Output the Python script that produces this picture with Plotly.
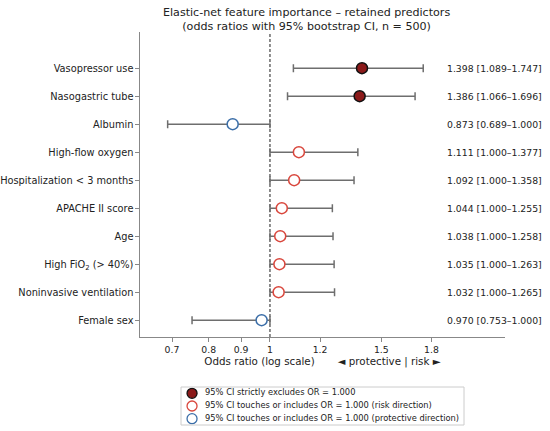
import plotly.graph_objects as go

features = ["Vasopressor use", "Nasogastric tube", "Albumin", "High-flow oxygen",
            "Hospitalization &lt; 3 months", "APACHE II score", "Age",
            "High FiO<sub>2</sub> (&gt; 40%)", "Noninvasive ventilation", "Female sex"]
odds = [1.398, 1.386, 0.873, 1.111, 1.092, 1.044, 1.038, 1.035, 1.032, 0.970]
ci_low = [1.089, 1.066, 0.689, 1.000, 1.000, 1.000, 1.000, 1.000, 1.000, 0.753]
ci_high = [1.747, 1.696, 1.000, 1.377, 1.358, 1.255, 1.258, 1.263, 1.265, 1.000]
groups = ["excl", "excl", "prot", "risk", "risk", "risk", "risk", "risk", "risk", "prot"]

x_ticks = [0.7, 0.8, 0.9, 1, 1.2, 1.5, 1.8]
x_ticktext = ["0.7", "0.8", "0.9", "1", "1.2", "1.5", "1.8"]

legend_order = ["excl", "risk", "prot"]
legend_labels = ["95% CI strictly excludes OR = 1.000",
                 "95% CI touches or includes OR = 1.000 (risk direction)",
                 "95% CI touches or includes OR = 1.000 (protective direction)"]

FONT = "DejaVu Sans"
fills = {"excl": "#8b1a1a", "risk": "white", "prot": "white"}
edges = {"excl": "#111111", "risk": "#d9473d", "prot": "#3b6ea8"}

W, H = 550, 431
ML, MR, MT, MB = 140, 550 - 505, 32, 2
plot_h = H - MT - MB
plot_w = W - ML - MR
def ydom(px):  # window pixel from top -> paper fraction
    return (H - MB - px) / plot_h
def xdom(px):
    return (px - ML) / plot_w

fig = go.Figure()
for g in ["excl", "risk", "prot"]:
    idx = [i for i, gg in enumerate(groups) if gg == g]
    fig.add_trace(go.Scatter(
        x=[odds[i] for i in idx], y=[i for i in idx], mode="markers", showlegend=False,
        marker=dict(size=11, color=fills[g], line=dict(color=edges[g], width=1.5)),
        error_x=dict(type="data", symmetric=False,
                     array=[ci_high[i] - odds[i] for i in idx],
                     arrayminus=[odds[i] - ci_low[i] for i in idx],
                     color="#6e6e6e", thickness=1.5, width=4),
        xaxis="x", yaxis="y",
    ))

# custom legend on its own small axes
fig.add_trace(go.Scatter(
    x=[0.39] * 3, y=list(range(3)), mode="markers", showlegend=False,
    marker=dict(size=10, color=[fills[g] for g in legend_order],
                line=dict(color=[edges[g] for g in legend_order], width=1.3)),
    xaxis="x2", yaxis="y2", cliponaxis=False,
))
fig.add_trace(go.Scatter(
    x=[0.85] * 3, y=list(range(3)), mode="text", showlegend=False,
    text=legend_labels, textposition="middle right",
    textfont=dict(family=FONT, size=8.3, color="#222"),
    xaxis="x2", yaxis="y2", cliponaxis=False,
))

fig.add_shape(type="line", x0=1, x1=1, y0=0, y1=1, xref="x", yref="y domain",
              line=dict(color="#444444", width=1.2, dash="3px,2px"), layer="below")
fig.add_shape(type="rect", x0=0, x1=1, y0=0, y1=1, xref="x2 domain", yref="y2 domain",
              line=dict(color="#cccccc", width=1), fillcolor="rgba(0,0,0,0)")

for i in range(len(features)):
    fig.add_annotation(x=xdom(445), xref="paper", y=i, yref="y", xanchor="left",
                       text=f"{odds[i]:.3f} [{ci_low[i]:.3f}–{ci_high[i]:.3f}]",
                       showarrow=False, font=dict(family=FONT, size=9.3, color="#222"))

fig.add_annotation(x=xdom(306), xref="paper", y=1, yref="paper", yanchor="bottom",
                   yshift=-3,
                   text="Elastic-net feature importance – retained predictors<br>(odds ratios with 95% bootstrap CI, n = 500)",
                   showarrow=False, font=dict(family=FONT, size=11.1, color="#222"))

fig.update_layout(
    width=W, height=H,
    margin=dict(l=ML, r=MR, t=MT, b=MB, autoexpand=False),
    paper_bgcolor="white", plot_bgcolor="white",
    font=dict(family=FONT, size=9.5, color="#222"),
    showlegend=False,
    xaxis=dict(type="log", range=[-0.2055, 0.3716], tickvals=x_ticks, ticktext=x_ticktext,
               domain=[0, 1], anchor="y",
               showgrid=False, zeroline=False, showline=True, linecolor="#888", linewidth=1.2,
               ticks="outside", ticklen=3.5, tickcolor="#888", tickfont=dict(size=9.3),
               title=dict(text="Odds ratio (log scale)       ◄ protective | risk ►",
                          font=dict(size=10.3), standoff=3)),
    yaxis=dict(range=[9.6, -1.29], tickvals=list(range(len(features))), ticktext=features,
               domain=[ydom(337), 1], automargin=False, anchor="x",
               showgrid=False, zeroline=False, showline=True, linecolor="#888", linewidth=1.2,
               ticks="outside", ticklen=3.5, tickcolor="#888", tickfont=dict(size=9.8)),
    xaxis2=dict(domain=[xdom(181), xdom(464)], range=[0, 10], anchor="y2",
                visible=False, fixedrange=True),
    yaxis2=dict(domain=[ydom(425), ydom(387)], range=[2.5, -0.5], anchor="x2",
                visible=False, fixedrange=True),
)

fig.write_html("out.html", config={"displayModeBar": False},
               post_script="document.body.style.margin='0';document.body.style.overflow='hidden';")
